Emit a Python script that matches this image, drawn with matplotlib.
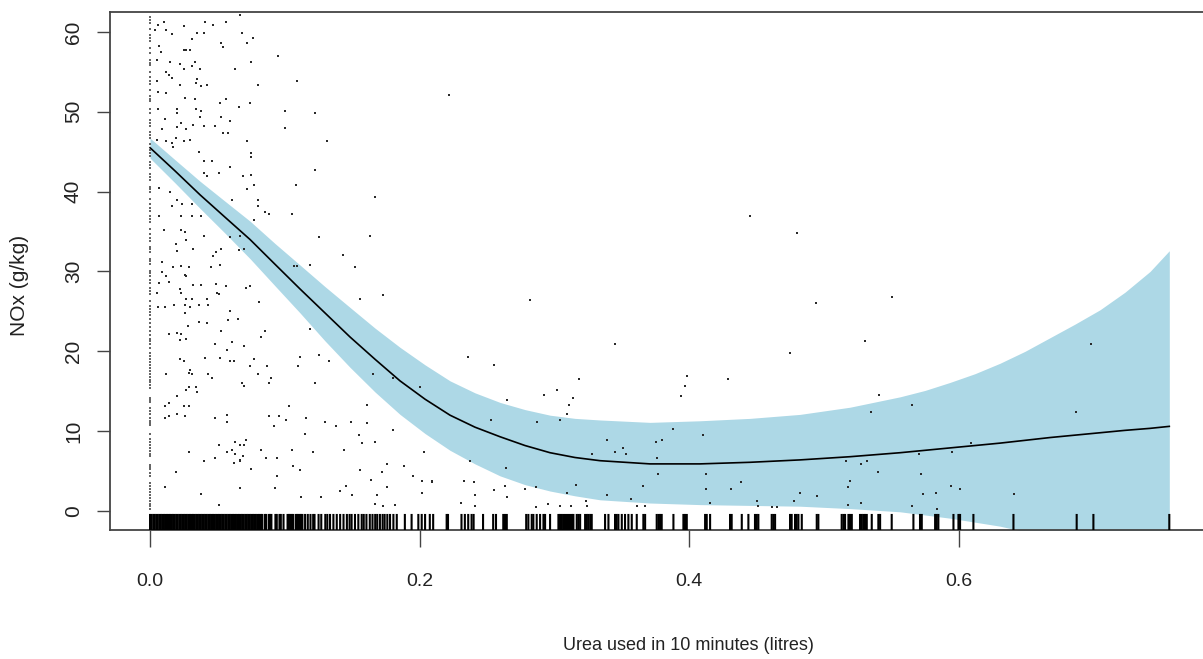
import matplotlib
matplotlib.use('Agg')
import matplotlib.pyplot as plt
import matplotlib.transforms as mtransforms

# smooth fit and its shaded band
fitX = [0.0, 0.0185, 0.0371, 0.0556, 0.0742, 0.0927, 0.1113, 0.1298, 0.1483, 0.1669,
        0.1854, 0.2040, 0.2225, 0.2410, 0.2596, 0.2781, 0.2967, 0.3152, 0.3338, 0.3708,
        0.4079, 0.4450, 0.4821, 0.5192, 0.5563, 0.5748, 0.5933, 0.6119, 0.6304, 0.6490,
        0.6675, 0.6860, 0.7046, 0.7231, 0.7417, 0.7560]
fitY = [45.5, 42.6, 39.6, 36.8, 34.0, 30.9, 27.8, 24.8, 21.8, 19.0,
        16.3, 14.0, 12.0, 10.5, 9.3, 8.2, 7.3, 6.7, 6.3, 5.9,
        5.9, 6.1, 6.4, 6.8, 7.3, 7.6, 7.9, 8.2, 8.5, 8.85,
        9.2, 9.5, 9.8, 10.1, 10.35, 10.6]
bandUpper = [46.7, 44.0, 41.3, 38.8, 36.3, 33.5, 30.8, 28.1, 25.5, 22.9,
             20.5, 18.3, 16.3, 14.8, 13.6, 12.7, 12.0, 11.6, 11.4, 11.1,
             11.3, 11.6, 12.1, 13.0, 14.3, 15.1, 16.1, 17.2, 18.5, 20.0,
             21.7, 23.4, 25.2, 27.4, 30.0, 32.6]
bandLower = [44.2, 41.1, 37.9, 34.8, 31.6, 28.2, 24.8, 21.3, 18.0, 14.9,
             12.1, 9.7, 7.6, 5.9, 4.4, 3.3, 2.5, 1.9, 1.4, 1.0,
             0.8, 0.7, 0.6, 0.3, -0.1, -0.5, -0.9, -1.4, -1.9, -2.6,
             -3.6, -4.8, -6.2, -8.0, -10.0, -11.5]

# residual points sitting on x = 0
zeroY = [0.3, 0.6, 0.9, 1.3, 1.6, 2.0, 2.4, 2.8, 3.1, 3.5, 4.4, 4.8, 5.2, 5.5, 5.8,
         6.9, 7.2, 7.5, 7.9, 8.3, 8.6, 9.0, 9.6, 10.8, 11.0, 11.3, 11.7, 12.1, 12.5,
         12.9, 13.6, 13.9, 14.2, 15.4, 15.8, 16.1, 16.4, 16.8, 17.1, 17.5, 17.9, 18.3,
         18.6, 19.0, 19.4, 19.8, 20.4, 20.9, 21.3, 21.6, 22.0, 22.6, 23.0, 23.5, 24.1,
         24.5, 24.9, 25.3, 25.7, 26.3, 27.2, 27.5, 27.9, 28.5, 28.9, 29.4, 29.8, 30.1,
         30.9, 31.3, 31.6, 32.4, 32.8, 33.1, 33.8, 34.2, 34.7, 35.3, 36.2, 36.6, 36.9,
         37.6, 38.0, 38.5, 39.1, 40.0, 40.3, 40.6, 41.5, 41.8, 42.2, 42.9, 43.3, 43.7,
         44.5, 44.8, 45.2, 46.0, 46.7, 47.1, 47.5, 48.2, 48.6, 49.0, 49.8, 50.4, 51.3,
         51.6, 52.0, 52.7, 53.5, 53.9, 54.3, 55.0, 55.8, 56.1, 56.5, 57.4, 58.0, 58.9,
         59.2, 59.6, 60.4, 61.1, 61.5, 61.9]

# residual points, upper left
upLeftX = [0.010, 0.004, 0.006, 0.025, 0.041, 0.047, 0.056, 0.067, 0.016, 0.012,
           0.035, 0.040, 0.068, 0.031, 0.053, 0.054, 0.072, 0.076, 0.025, 0.027,
           0.030, 0.007, 0.008, 0.005, 0.015, 0.022, 0.031, 0.033, 0.025, 0.037,
           0.063, 0.075, 0.095, 0.012, 0.014, 0.016, 0.005, 0.035, 0.034, 0.022,
           0.038, 0.042, 0.080, 0.109, 0.006, 0.012, 0.026, 0.033, 0.052, 0.056,
           0.074, 0.066, 0.006, 0.020, 0.020, 0.038, 0.034, 0.037, 0.053, 0.059,
           0.100, 0.122, 0.011, 0.023, 0.020, 0.027, 0.032, 0.040, 0.048, 0.054,
           0.058, 0.009, 0.100, 0.131, 0.005, 0.012, 0.016, 0.019, 0.025, 0.030,
           0.017, 0.072, 0.075, 0.075, 0.036, 0.040, 0.046, 0.059, 0.051, 0.040,
           0.042, 0.069, 0.075, 0.077, 0.108, 0.072, 0.122, 0.167, 0.007, 0.015,
           0.020, 0.016, 0.024, 0.031, 0.023, 0.031, 0.038, 0.061, 0.080, 0.080,
           0.085, 0.088, 0.105, 0.077, 0.125, 0.163, 0.007, 0.010, 0.023, 0.026,
           0.027, 0.040, 0.049, 0.053, 0.047, 0.032, 0.020, 0.019, 0.066, 0.070,
           0.059, 0.067, 0.143]
upLeftY = [61.2, 60.3, 60.9, 60.8, 61.3, 60.9, 61.2, 62.1, 59.8, 60.2,
           59.9, 59.9, 59.9, 59.1, 58.6, 58.1, 58.6, 59.3, 57.8, 57.8,
           57.8, 58.3, 57.5, 56.5, 56.2, 56.0, 55.7, 56.2, 55.3, 55.3,
           55.3, 56.2, 57.0, 55.0, 54.6, 54.2, 53.8, 54.1, 53.6, 53.4,
           53.2, 53.4, 53.4, 53.9, 52.5, 52.3, 51.7, 51.6, 51.1, 51.6,
           51.1, 50.6, 50.3, 50.3, 49.9, 50.1, 50.3, 49.3, 49.4, 48.8,
           50.1, 49.8, 49.1, 48.6, 48.1, 47.8, 48.4, 48.2, 48.2, 47.4,
           47.3, 47.9, 48.0, 46.3, 46.5, 46.4, 46.1, 46.7, 46.4, 46.5,
           45.6, 46.3, 44.9, 44.4, 45.0, 43.8, 43.8, 43.1, 42.3, 42.3,
           41.9, 41.9, 42.1, 40.8, 40.8, 40.3, 42.7, 39.3, 40.4, 40.0,
           39.0, 38.2, 38.4, 38.5, 36.9, 37.0, 37.0, 39.0, 38.9, 38.2,
           37.5, 37.2, 37.2, 36.4, 34.3, 34.5, 36.9, 35.2, 35.2, 34.9,
           34.0, 34.5, 32.5, 32.8, 31.9, 32.8, 32.6, 33.5, 32.7, 32.8,
           34.3, 34.4, 32.1]

# residual points, lower left
lowLeftX = [0.009, 0.017, 0.023, 0.029, 0.045, 0.052, 0.009, 0.012, 0.014, 0.007,
            0.026, 0.027, 0.032, 0.038, 0.049, 0.056, 0.071, 0.074, 0.022, 0.023,
            0.005, 0.027, 0.031, 0.042, 0.050, 0.051, 0.018, 0.026, 0.030, 0.006,
            0.011, 0.036, 0.043, 0.026, 0.059, 0.058, 0.065, 0.036, 0.042, 0.028,
            0.053, 0.081, 0.085, 0.082, 0.014, 0.020, 0.023, 0.022, 0.027, 0.048,
            0.057, 0.061, 0.070, 0.041, 0.052, 0.022, 0.025, 0.059, 0.062, 0.043,
            0.077, 0.074, 0.087, 0.012, 0.029, 0.031, 0.030, 0.046, 0.068, 0.070,
            0.080, 0.088, 0.090, 0.027, 0.029, 0.034, 0.035, 0.020, 0.011, 0.014,
            0.025, 0.029, 0.011, 0.014, 0.020, 0.026, 0.048, 0.057, 0.057, 0.088,
            0.096, 0.101, 0.092, 0.103, 0.116, 0.130, 0.138, 0.149, 0.161, 0.115,
            0.122, 0.110, 0.111, 0.119, 0.125, 0.133, 0.165, 0.180, 0.161, 0.051,
            0.029, 0.057, 0.061, 0.063, 0.067, 0.071, 0.070, 0.063, 0.069, 0.040,
            0.062, 0.067, 0.067, 0.048, 0.086, 0.094, 0.082, 0.105, 0.121, 0.144,
            0.155, 0.157, 0.167, 0.106, 0.111, 0.075, 0.019, 0.094, 0.156, 0.172,
            0.176, 0.188, 0.195, 0.203, 0.202, 0.209, 0.164, 0.141, 0.145, 0.176,
            0.150, 0.168, 0.011, 0.038, 0.067, 0.093, 0.112, 0.127, 0.051, 0.167,
            0.173, 0.182, 0.202, 0.107, 0.109, 0.119, 0.152, 0.156, 0.173, 0.180,
            0.200]
lowLeftY = [31.2, 30.5, 30.7, 30.5, 30.5, 30.8, 29.9, 29.4, 28.7, 28.6,
            29.6, 29.4, 28.3, 28.3, 28.4, 28.2, 27.9, 28.2, 27.8, 27.3,
            27.3, 26.5, 26.5, 26.5, 27.3, 27.2, 25.8, 25.8, 25.5, 25.5,
            25.5, 25.8, 25.8, 24.8, 25.0, 23.9, 24.0, 23.7, 23.5, 23.2,
            22.6, 26.2, 22.6, 21.8, 22.2, 22.3, 22.2, 21.4, 21.5, 20.9,
            20.2, 21.2, 20.7, 19.2, 19.2, 19.0, 18.8, 18.8, 18.8, 17.2,
            19.0, 18.1, 18.1, 17.2, 17.3, 17.2, 17.7, 16.7, 16.0, 15.6,
            17.2, 16.0, 16.7, 15.2, 15.5, 15.5, 14.9, 14.4, 13.2, 13.5,
            13.2, 13.2, 11.6, 11.9, 12.2, 11.9, 11.6, 12.0, 11.1, 11.9,
            11.9, 11.4, 10.6, 13.2, 11.6, 11.1, 10.6, 11.2, 11.0, 9.6,
            16.0, 18.2, 19.3, 22.8, 19.5, 18.8, 17.2, 10.2, 13.3, 8.3,
            7.4, 7.4, 7.7, 8.7, 8.3, 8.9, 8.3, 7.2, 6.9, 6.2,
            6.0, 6.2, 6.4, 6.7, 6.7, 6.7, 7.7, 7.7, 7.4, 7.7,
            9.5, 8.5, 8.7, 5.6, 5.1, 5.3, 4.9, 4.4, 5.1, 4.9,
            5.9, 5.6, 4.4, 7.4, 3.7, 3.7, 3.9, 2.5, 3.1, 3.0,
            2.0, 2.0, 3.0, 2.1, 2.9, 2.9, 1.7, 1.7, 0.8, 0.9,
            0.6, 0.8, 2.3, 30.7, 30.7, 30.8, 30.5, 26.5, 27.1, 16.6,
            15.5]

# residual points, middle
midX = [0.222, 0.445, 0.282, 0.345, 0.236, 0.255, 0.318, 0.398, 0.397, 0.394,
        0.429, 0.302, 0.292, 0.314, 0.311, 0.265, 0.309, 0.253, 0.287, 0.304,
        0.388, 0.410, 0.339, 0.375, 0.380, 0.345, 0.351, 0.353, 0.328, 0.376,
        0.237, 0.264, 0.377, 0.412, 0.438, 0.209, 0.233, 0.240, 0.263, 0.278,
        0.286, 0.316, 0.366, 0.412, 0.431, 0.255, 0.241, 0.265, 0.309, 0.339,
        0.357, 0.415, 0.450, 0.231, 0.241, 0.286, 0.295, 0.304, 0.312, 0.323,
        0.324, 0.361, 0.367, 0.451, 0.461, 0.465]
midY = [52.1, 37.0, 26.4, 20.9, 19.3, 18.3, 16.5, 16.9, 15.7, 14.4,
        16.5, 15.2, 14.5, 14.1, 13.3, 13.9, 12.1, 11.4, 11.2, 11.4,
        10.3, 9.5, 8.9, 8.7, 8.9, 7.4, 7.9, 7.2, 7.2, 6.6,
        6.2, 5.4, 4.6, 4.6, 3.6, 3.6, 3.8, 3.6, 3.1, 2.8,
        3.0, 3.3, 3.1, 2.8, 2.8, 2.6, 2.0, 1.7, 2.2, 2.0,
        1.5, 1.0, 1.2, 1.0, 0.6, 0.5, 0.9, 0.6, 0.6, 1.2,
        0.6, 0.6, 0.6, 0.6, 0.5, 0.5]

# residual points, right
rightX = [0.480, 0.494, 0.550, 0.475, 0.530, 0.698, 0.541, 0.565, 0.535, 0.687,
          0.609, 0.570, 0.595, 0.516, 0.527, 0.532, 0.540, 0.572, 0.519, 0.518,
          0.594, 0.601, 0.482, 0.495, 0.573, 0.583, 0.641, 0.478, 0.527, 0.518,
          0.565, 0.584]
rightY = [34.8, 26.0, 26.8, 19.8, 21.3, 20.9, 14.5, 13.3, 12.4, 12.4,
          8.5, 7.2, 7.4, 6.2, 5.9, 6.2, 4.9, 4.6, 3.8, 3.0,
          3.1, 2.8, 2.3, 1.9, 2.1, 2.3, 2.1, 1.3, 1.0, 0.7,
          0.6, 0.2]

# rug of observed x values
rugX = [0.000, 0.0012, 0.0025, 0.0034, 0.0046, 0.0057, 0.0069, 0.0080, 0.0091, 0.0103,
        0.0114, 0.0126, 0.0137, 0.0148, 0.0160, 0.0171, 0.0182, 0.0194, 0.0205, 0.0217,
        0.0228, 0.0239, 0.0251, 0.0262, 0.0273, 0.0285, 0.0296, 0.0308, 0.0319, 0.0330,
        0.0342, 0.0353, 0.0364, 0.0376, 0.0387, 0.0399, 0.0410, 0.0421, 0.0433, 0.0444,
        0.0455, 0.0467, 0.0478, 0.0490, 0.0501, 0.0512, 0.0524, 0.0535, 0.0546, 0.0558,
        0.0569, 0.0581, 0.0592, 0.0603, 0.0615, 0.0626, 0.0637, 0.0649, 0.0660, 0.0672,
        0.0683, 0.0694, 0.0706, 0.0717, 0.0728, 0.0740, 0.0751, 0.0763, 0.0774, 0.0785,
        0.0797, 0.0808, 0.0820, 0.0830,
        0.085, 0.086, 0.088, 0.089, 0.090, 0.093, 0.094, 0.096, 0.097, 0.099,
        0.102, 0.103, 0.104, 0.105, 0.106, 0.108, 0.109, 0.110, 0.111, 0.112, 0.113,
        0.115, 0.117, 0.119, 0.121, 0.122, 0.125, 0.127, 0.130, 0.1315, 0.1335,
        0.136, 0.1385, 0.141, 0.1435, 0.146, 0.148, 0.1495, 0.152, 0.1545, 0.157,
        0.1585, 0.1605, 0.163, 0.165, 0.167, 0.1685, 0.1705, 0.1725, 0.174, 0.176,
        0.178, 0.1805, 0.183, 0.189, 0.194, 0.199, 0.2015, 0.204, 0.2075, 0.210,
        0.220, 0.221, 0.231, 0.2335, 0.236, 0.2385, 0.240, 0.247, 0.2545,
        0.2566, 0.262, 0.2633, 0.2646, 0.279, 0.2806, 0.2831, 0.2843, 0.2868, 0.2893,
        0.2918, 0.293, 0.2967, 0.3029, 0.3041, 0.3055, 0.307, 0.3085, 0.310, 0.3115,
        0.313, 0.314, 0.3165, 0.3177, 0.319, 0.3227, 0.324, 0.3252, 0.3265, 0.3276,
        0.3375, 0.340, 0.3449, 0.3461, 0.3474, 0.3499, 0.3523, 0.3548, 0.3573, 0.361,
        0.3659, 0.3672, 0.3758, 0.3771, 0.3783, 0.3795, 0.3882, 0.3956, 0.3968, 0.3981,
        0.4117, 0.4129, 0.4154, 0.4302, 0.4314, 0.4389, 0.4438, 0.4487, 0.450, 0.4512,
        0.4611, 0.4623, 0.4636, 0.4747, 0.4759, 0.4784, 0.4796, 0.4809, 0.4834, 0.4945,
        0.4957, 0.513, 0.5143, 0.5155, 0.518, 0.5192, 0.5205, 0.5266, 0.5279, 0.5291,
        0.5303, 0.5316, 0.5353, 0.5402, 0.5415, 0.5501, 0.5662, 0.5711, 0.5724, 0.5823,
        0.5835, 0.5847, 0.5959, 0.5996, 0.6008, 0.6107, 0.6404, 0.6873, 0.6997, 0.756]

xTicks = [0.0, 0.2, 0.4, 0.6]
xTickLabels = ['0.0', '0.2', '0.4', '0.6']
yTicks = [0, 10, 20, 30, 40, 50, 60]


def makePlot():
    fig = plt.figure(figsize=(12.03, 6.59), dpi=100)
    # right edge of the box falls just outside the picture
    ax = fig.add_axes([110 / 1203, 1 - 530 / 659, 1098 / 1203, 518 / 659])

    ax.fill_between(fitX, bandLower, bandUpper, color='#ADD8E6', lw=0, zorder=1)
    ax.plot(fitX, fitY, color='black', lw=1.2, zorder=2)

    ax.scatter([0.0] * len(zeroY), zeroY, s=2.2, marker='s', color='#666666',
               linewidths=0, zorder=3)
    allX = upLeftX + lowLeftX + midX + rightX
    allY = upLeftY + lowLeftY + midY + rightY
    ax.scatter(allX, allY, s=2.2, marker='s', color='#2a2a2a', linewidths=0, zorder=3)

    trans = mtransforms.blended_transform_factory(ax.transData, ax.transAxes)
    rug = ax.vlines(rugX, 0, 0.031, transform=trans, color='black', lw=1.5, zorder=4)
    rug.set_snap(False)

    ax.set_xlim(-0.0297, 0.7847)
    ax.set_ylim(-2.38, 62.5)
    return fig, ax


def styleAxes(ax):
    for side in ['left', 'right', 'top', 'bottom']:
        ax.spines[side].set_color('#444444')
        ax.spines[side].set_linewidth(1.3)
    ax.set_xticks(xTicks)
    ax.set_xticklabels(xTickLabels, fontsize=14, color='#222222')
    ax.set_yticks(yTicks)
    ax.set_yticklabels([str(v) for v in yTicks], rotation=90, va='center',
                       fontsize=15, color='#222222')
    ax.tick_params(axis='x', length=12, width=1, color='#444444', pad=19)
    ax.tick_params(axis='y', length=9.5, width=1, color='#444444', pad=10)
    ax.set_xlabel('Urea used in 10 minutes (litres)', fontsize=13, color='#222222')
    ax.xaxis.set_label_coords((688 - 110) / 1098, (530 - 645) / 518)
    ax.set_ylabel('NOx (g/kg)', fontsize=15, color='#222222')
    ax.yaxis.set_label_coords(-(110 - 20) / 1098, (530 - 285) / 518)
    ax.xaxis.label.set_va('center')
    ax.yaxis.label.set_va('center')


def main():
    plt.rcParams['font.family'] = ['Liberation Sans', 'DejaVu Sans']
    fig, ax = makePlot()
    styleAxes(ax)
    fig.savefig('out.png', dpi=100)


if __name__ == "__main__":
    main()
